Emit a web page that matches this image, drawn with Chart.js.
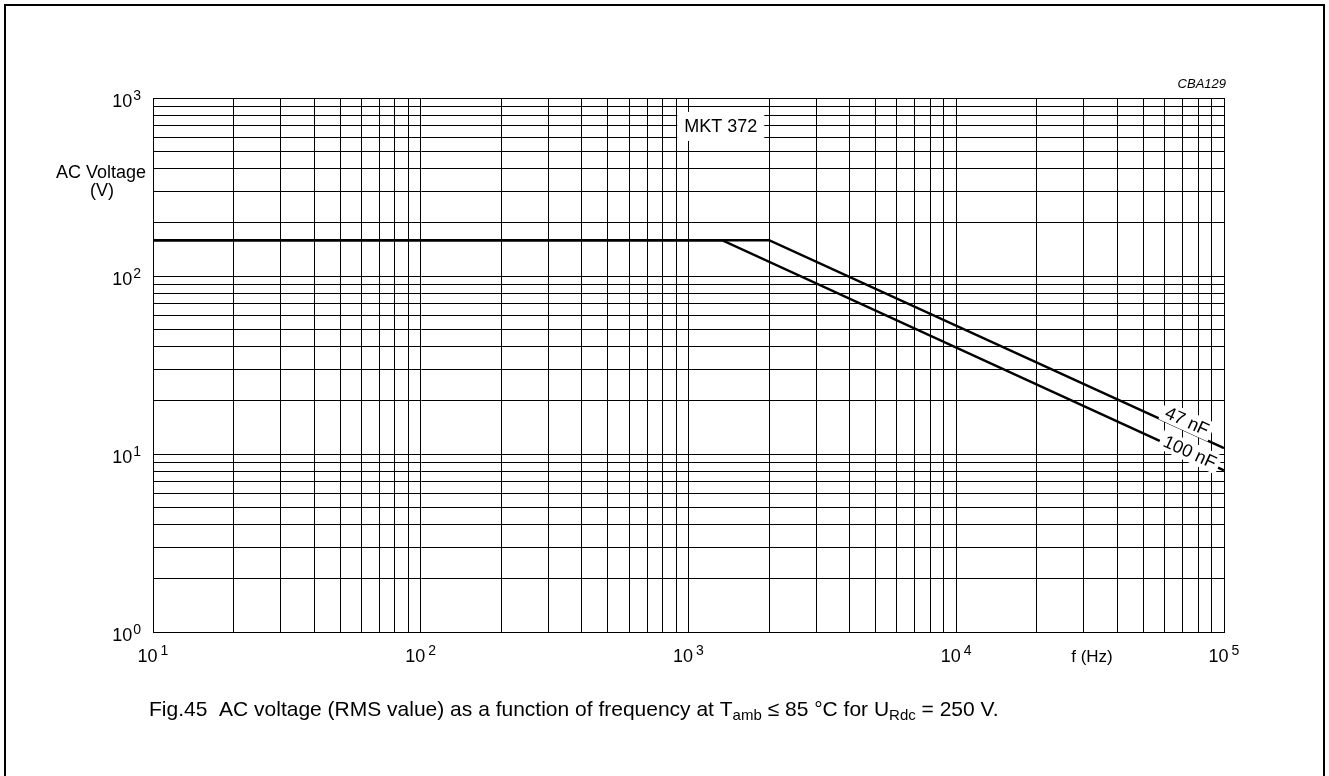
<!DOCTYPE html>
<html><head><meta charset="utf-8">
<script src="https://cdn.jsdelivr.net/npm/chart.js@4.4.0/dist/chart.umd.min.js"></script>
<style>html,body{margin:0;padding:0;background:#fff;}canvas{display:block;}</style>
</head><body>
<canvas id="c" width="1329" height="776"></canvas>
<script>
// ---- data ----
const freq47 = [10, 2000, 100000];
const volt47 = [159, 159, 10.8];
const freq100 = [10, 1334, 100000];
const volt100 = [159, 159, 8.1];
const seriesNames = ['47 nF', '100 nF'];
const seriesLabelFreq = [72800, 74600];
const seriesLabelVolt = [15.3, 10.26];
const xTickExponents = [1, 2, 3, 4, 5];
const yTickExponents = [0, 1, 2, 3];
const minorMultipliers = [1, 2, 3, 4, 5, 6, 7, 8, 9];
const productName = 'MKT 372';
const productFreq = 1320, productVolt = 697;
const figCode = 'CBA129';
const yTitle = ['AC Voltage', '(V)'];
const xTitle = 'f (Hz)';
const captionParts = [
  {t: 'Fig.45  AC voltage (RMS value) as a function of frequency at T', s: false},
  {t: 'amb', s: true},
  {t: ' \u2264 85 \u00B0C for U', s: false},
  {t: 'Rdc', s: true},
  {t: ' = 250 V.', s: false}
];

const FONT = '"Liberation Sans", Arial, sans-serif';

function logTicks(exps) {
  const out = [];
  for (let i = 0; i < exps.length; i++) {
    const base = Math.pow(10, exps[i]);
    if (i === exps.length - 1) { out.push({value: base}); break; }
    for (const m of minorMultipliers) out.push({value: m * base});
  }
  return out;
}

function drawPow(ctx, exp, x, y, align) {
  ctx.font = '18px ' + FONT;
  const wb = ctx.measureText('10').width;
  ctx.font = '14px ' + FONT;
  const we = ctx.measureText(String(exp)).width;
  let x0;
  if (align === 'right') x0 = x - wb - 1 - we;
  else x0 = x - (wb + 3 + we) / 2;
  ctx.textAlign = 'left';
  ctx.textBaseline = 'alphabetic';
  ctx.font = '18px ' + FONT;
  ctx.fillText('10', x0, y);
  ctx.font = '14px ' + FONT;
  ctx.fillText(String(exp), x0 + wb + (align === 'right' ? 1 : 3), y - 7);
}

const decor = {
  id: 'decor',
  beforeDraw(chart) {
    const ctx = chart.ctx;
    ctx.save();
    ctx.fillStyle = '#fff';
    ctx.fillRect(0, 0, chart.width, chart.height);
    ctx.strokeStyle = '#000';
    ctx.lineWidth = 2;
    ctx.beginPath();
    ctx.moveTo(5, chart.height + 2);
    ctx.lineTo(5, 5);
    ctx.lineTo(1324, 5);
    ctx.lineTo(1324, chart.height + 2);
    ctx.stroke();
    ctx.restore();
  },
  afterDatasetsDraw(chart) {
    const ctx = chart.ctx;
    const xs = chart.scales.x, ys = chart.scales.y;
    ctx.save();
    ctx.fillStyle = '#000';
    // product label
    ctx.font = '18px ' + FONT;
    const px = xs.getPixelForValue(productFreq), py = ys.getPixelForValue(productVolt);
    const pw = ctx.measureText(productName).width;
    ctx.fillStyle = '#fff';
    ctx.fillRect(px - pw / 2 - 7, py - 14, pw + 14, 29);
    ctx.fillStyle = '#000';
    ctx.textAlign = 'center';
    ctx.textBaseline = 'middle';
    ctx.fillText(productName, px, py + 1);
    // curve labels
    const meta = chart.getDatasetMeta(0);
    const p1 = meta.data[1], p2 = meta.data[2];
    const ang = Math.atan2(p2.y - p1.y, p2.x - p1.x);
    ctx.font = '18px ' + FONT;
    for (let i = 0; i < seriesNames.length; i++) {
      const lx = xs.getPixelForValue(seriesLabelFreq[i]);
      const ly = ys.getPixelForValue(seriesLabelVolt[i]);
      const w = ctx.measureText(seriesNames[i]).width;
      ctx.save();
      ctx.translate(lx, ly);
      ctx.rotate(ang);
      ctx.fillStyle = '#fff';
      ctx.fillRect(-w / 2 - 4, -10, w + 8, 20);
      ctx.fillStyle = '#000';
      ctx.textAlign = 'center';
      ctx.textBaseline = 'middle';
      ctx.fillText(seriesNames[i], 0, 1);
      ctx.restore();
    }
    ctx.restore();
  },
  afterDraw(chart) {
    const ctx = chart.ctx;
    const xs = chart.scales.x, ys = chart.scales.y;
    ctx.save();
    ctx.fillStyle = '#000';
    for (const e of yTickExponents) {
      const y = ys.getPixelForValue(Math.pow(10, e));
      drawPow(ctx, e, 141, y + 9, 'right');
    }
    for (const e of xTickExponents) {
      const x = xs.getPixelForValue(Math.pow(10, e));
      drawPow(ctx, e, x, 662, 'center');
    }
    ctx.textAlign = 'center';
    ctx.textBaseline = 'alphabetic';
    ctx.font = '18px ' + FONT;
    ctx.fillText(yTitle[0], 101, 178);
    ctx.fillText(yTitle[1], 102, 196);
    ctx.font = '17px ' + FONT;
    ctx.fillText(xTitle, 1092, 662);
    ctx.font = 'italic 13px ' + FONT;
    ctx.textAlign = 'right';
    ctx.fillText(figCode, 1226, 88);
    // caption
    ctx.textAlign = 'left';
    let cx = 149;
    const cy = 716;
    for (const part of captionParts) {
      ctx.font = (part.s ? '15px ' : '21px ') + FONT;
      ctx.fillText(part.t, cx, part.s ? cy + 4 : cy);
      cx += ctx.measureText(part.t).width;
    }
    ctx.restore();
  }
};

const gridOpts = {color: '#000', lineWidth: 1, drawTicks: false};
new Chart(document.getElementById('c'), {
  type: 'line',
  data: {
    datasets: [
      {label: seriesNames[0], data: freq47.map((f, i) => ({x: f, y: volt47[i]})),
       borderColor: '#000', borderWidth: 2.5, pointRadius: 0, tension: 0, fill: false},
      {label: seriesNames[1], data: freq100.map((f, i) => ({x: f, y: volt100[i]})),
       borderColor: '#000', borderWidth: 2.5, pointRadius: 0, tension: 0, fill: false}
    ]
  },
  options: {
    responsive: false,
    animation: false,
    devicePixelRatio: 1,
    layout: {padding: {left: 153, top: 98, right: 105, bottom: 144}},
    plugins: {legend: {display: false}, tooltip: {enabled: false}},
    scales: {
      x: {type: 'logarithmic', min: 10, max: 100000,
          afterBuildTicks: s => { s.ticks = logTicks(xTickExponents); },
          ticks: {display: false, autoSkip: false},
          grid: gridOpts, border: {color: '#000', width: 1}},
      y: {type: 'logarithmic', min: 1, max: 1000,
          afterBuildTicks: s => { s.ticks = logTicks(yTickExponents); },
          ticks: {display: false, autoSkip: false},
          grid: gridOpts, border: {color: '#000', width: 1}}
    }
  },
  plugins: [decor]
});
</script>
</body></html>
